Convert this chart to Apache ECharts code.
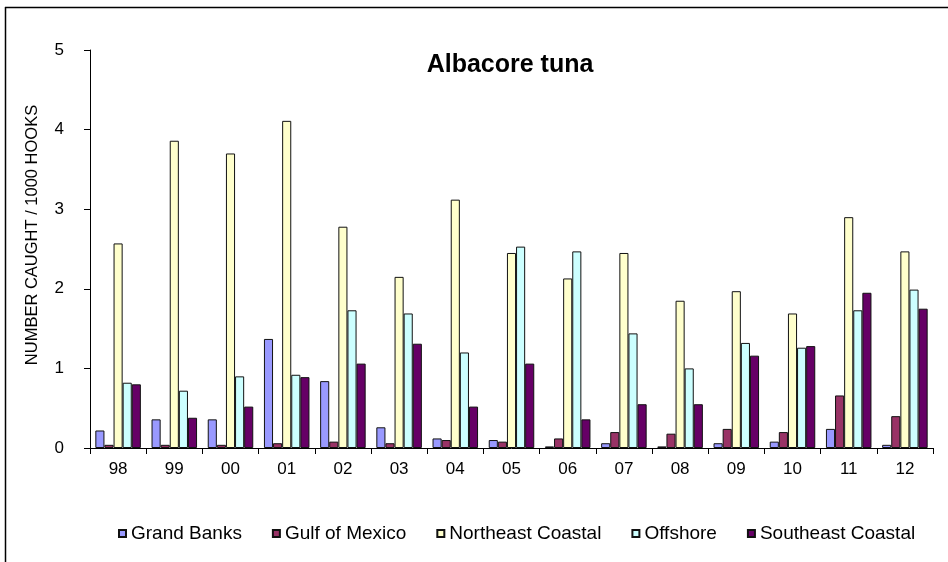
<!DOCTYPE html>
<html>
<head>
<meta charset="utf-8">
<script src="https://cdn.jsdelivr.net/npm/echarts@6/dist/echarts.min.js"></script>
<style>
  html, body { margin: 0; padding: 0; background: #fff; }
  #chart { width: 948px; height: 562px; }
</style>
</head>
<body>
<div id="chart"></div>
<script>
// Albacore tuna catch rate by area, 1998-2012
const years = ['98', '99', '00', '01', '02', '03', '04', '05', '06', '07', '08', '09', '10', '11', '12'];
const yTicks = [0, 1, 2, 3, 4, 5];

const grandBanks       = [0.22, 0.36, 0.36, 1.37, 0.84, 0.26, 0.12, 0.10, 0.02, 0.06, 0.02, 0.06, 0.08, 0.24, 0.04];
const gulfOfMexico     = [0.04, 0.04, 0.04, 0.06, 0.08, 0.06, 0.10, 0.08, 0.12, 0.20, 0.18, 0.24, 0.20, 0.66, 0.40];
const northeastCoastal = [2.57, 3.86, 3.70, 4.11, 2.78, 2.15, 3.12, 2.45, 2.13, 2.45, 1.85, 1.97, 1.69, 2.90, 2.47];
const offshore         = [0.82, 0.72, 0.90, 0.92, 1.73, 1.69, 1.20, 2.53, 2.47, 1.44, 1.00, 1.32, 1.26, 1.73, 1.99];
const southeastCoastal = [0.80, 0.38, 0.52, 0.89, 1.06, 1.31, 0.52, 1.06, 0.36, 0.55, 0.55, 1.16, 1.28, 1.95, 1.75];

const seriesDefs = [
  { name: 'Grand Banks',       data: grandBanks,       color: '#9999FF' },
  { name: 'Gulf of Mexico',    data: gulfOfMexico,     color: '#993366' },
  { name: 'Northeast Coastal', data: northeastCoastal, color: '#FFFFCC' },
  { name: 'Offshore',          data: offshore,         color: '#CCFFFF' },
  { name: 'Southeast Coastal', data: southeastCoastal, color: '#660066' }
];

const FONT = '"Liberation Sans", Arial, sans-serif';
const chart = echarts.init(document.getElementById('chart'), null, { renderer: 'canvas' });

chart.setOption({
  backgroundColor: '#ffffff',
  animation: false,
  title: {
    text: 'Albacore tuna',
    left: 505,
    top: 48,
    textAlign: 'center',
    textStyle: { fontFamily: FONT, fontSize: 25, fontWeight: 'bold', color: '#000' }
  },
  legend: {
    left: 113,
    top: 519,
    itemWidth: 7,
    itemHeight: 7,
    itemGap: 30,
    icon: 'rect',
    textStyle: { fontFamily: FONT, fontSize: 19, color: '#000' },
    data: seriesDefs.map(s => s.name)
  },
  grid: { left: 90, right: 15, top: 50, bottom: 114, containLabel: false },
  xAxis: {
    type: 'category',
    data: years,
    axisLine: { lineStyle: { color: '#000', width: 1 } },
    axisTick: { show: true, length: 6, lineStyle: { color: '#000' } },
    axisLabel: { fontFamily: FONT, fontSize: 17, color: '#000', margin: 13 }
  },
  yAxis: {
    type: 'value',
    min: yTicks[0],
    max: yTicks[yTicks.length - 1],
    interval: 1,
    name: 'NUMBER CAUGHT / 1000 HOOKS',
    nameLocation: 'middle',
    nameGap: 49,
    nameRotate: 90,
    nameTextStyle: { fontFamily: FONT, fontSize: 16.5, color: '#000', padding: [0, 0, 0, 28] },
    axisLine: { show: true, lineStyle: { color: '#000', width: 1 } },
    axisTick: { show: true, length: 6, lineStyle: { color: '#000' } },
    axisLabel: { fontFamily: FONT, fontSize: 17, color: '#000', margin: 26 },
    splitLine: { show: false }
  },
  graphic: [
    { type: 'line', shape: { x1: 5, y1: 7.5, x2: 948, y2: 7.5 }, style: { stroke: '#000', lineWidth: 1.5 }, silent: true },
    { type: 'line', shape: { x1: 5.5, y1: 7, x2: 5.5, y2: 562 }, style: { stroke: '#000', lineWidth: 1.5 }, silent: true }
  ],
  series: seriesDefs.map(s => ({
    name: s.name,
    type: 'bar',
    data: s.data,
    barGap: '0%',
    barCategoryGap: '19%',
    itemStyle: { color: s.color, borderColor: '#111', borderWidth: 1 }
  }))
});
</script>
</body>
</html>
